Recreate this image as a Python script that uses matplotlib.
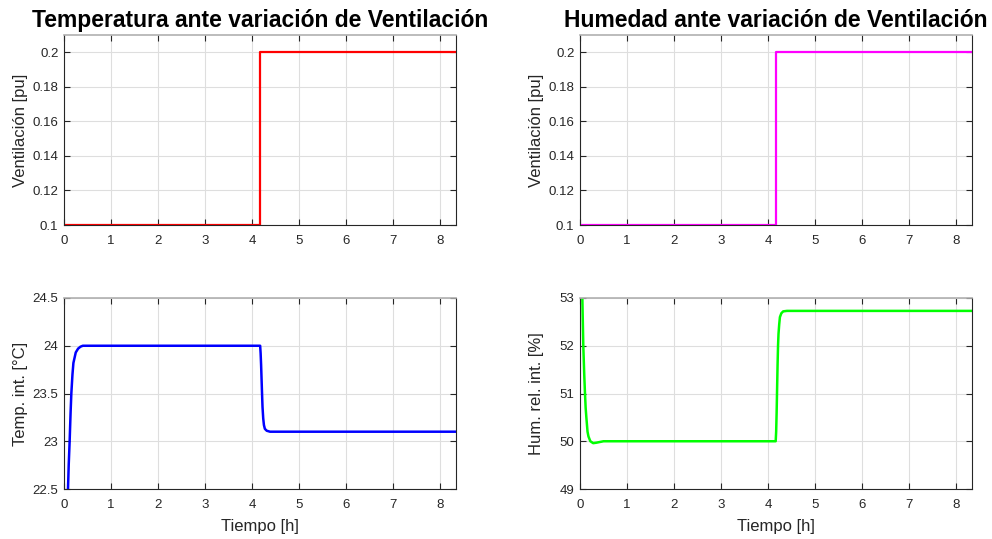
import matplotlib
matplotlib.use("Agg")
import matplotlib.pyplot as plt

plt.rcParams['font.family'] = ['Liberation Sans', 'DejaVu Sans']

# Simulation horizon [h] and ventilation step time [h]
t_end = 8.3333
t_step = 4.1667

# Ventilation input [pu]
vent_t = [0.0, t_step, t_end]
vent_v = [0.1, 0.2, 0.2]

# Indoor temperature [°C]
temp_t = [0.0, 0.06, 0.085, 0.10, 0.12, 0.14, 0.156, 0.18, 0.20, 0.25, 0.30, 0.35, 0.40, 0.50,
          4.17, 4.18, 4.19, 4.20, 4.21, 4.22, 4.235, 4.25, 4.27, 4.31, 4.38, t_end]
temp_v = [20.0, 22.0, 22.5, 22.75, 23.0, 23.3, 23.5, 23.7, 23.82, 23.93, 23.97, 23.99, 24.0, 24.0,
          24.0, 23.92, 23.8, 23.65, 23.5, 23.36, 23.24, 23.17, 23.13, 23.11, 23.1, 23.1]

# Indoor relative humidity [%]
hum_t = [0.0, 0.05, 0.07, 0.09, 0.106, 0.12, 0.135, 0.16, 0.18, 0.22, 0.28, 0.35, 0.50,
         4.16, 4.17, 4.18, 4.19, 4.20, 4.21, 4.22, 4.235, 4.25, 4.28, 4.32, 4.40, t_end]
hum_v = [56.0, 53.0, 52.0, 51.4, 51.0, 50.7, 50.5, 50.2, 50.1, 50.0, 49.96, 49.97, 50.0,
         50.0, 50.2, 50.6, 51.1, 51.6, 52.0, 52.25, 52.45, 52.6, 52.68, 52.72, 52.73, 52.73]

xticks = [0, 1, 2, 3, 4, 5, 6, 7, 8]

fig = plt.figure(figsize=(9.92, 5.39), dpi=100)
W, H = 992, 539

def make_ax(x0, y_top, x1, y_bot):
    return fig.add_axes([x0 / W, 1 - y_bot / H, (x1 - x0) / W, (y_bot - y_top) / H])

ax_tl = make_ax(64, 35, 456, 225)
ax_tr = make_ax(580, 35, 972, 225)
ax_bl = make_ax(64, 298, 456, 489)
ax_br = make_ax(580, 298, 972, 489)

axc = '#262626'

def style(ax, ylim, yticks, ylabel, yfmt=None):
    ax.set_xlim(0, t_end)
    ax.set_ylim(*ylim)
    ax.set_xticks(xticks)
    ax.set_yticks(yticks)
    if yfmt:
        ax.set_yticklabels([yfmt(v) for v in yticks])
    ax.grid(True, color='#dedede', linewidth=0.8)
    ax.set_axisbelow(True)
    ax.tick_params(direction='in', length=4, width=0.8, colors=axc, labelsize=9.5,
                   top=True, right=True)
    ax.tick_params(axis='x', pad=7)
    ax.tick_params(axis='y', pad=4)
    for s in ['left', 'bottom', 'right']:
        ax.spines[s].set_color(axc)
        ax.spines[s].set_linewidth(0.8)
    ax.spines['top'].set_color('#b0b0b0')
    ax.spines['top'].set_linewidth(1.2)
    ax.set_ylabel(ylabel, fontsize=12, color=axc, va='center')
    ax.yaxis.set_label_coords(-43 / 392, 0.5)

def fmt_vent(v):
    return f"{v:.2f}".rstrip('0')

vt = [0.1, 0.12, 0.14, 0.16, 0.18, 0.2]

ax_tl.plot(vent_t, vent_v, drawstyle='steps-post', color='#ff0000', lw=1.6)
style(ax_tl, (0.1, 0.21), vt, 'Ventilación [pu]', fmt_vent)
ax_tl.set_title('Temperatura ante variación de Ventilación', fontsize=16.5, fontweight='bold', pad=6)

ax_tr.plot(vent_t, vent_v, drawstyle='steps-post', color='#ff00ff', lw=1.6)
style(ax_tr, (0.1, 0.21), vt, 'Ventilación [pu]', fmt_vent)
ax_tr.set_title('Humedad ante variación de Ventilación', fontsize=16.5, fontweight='bold', pad=6)

ax_bl.plot(temp_t, temp_v, color='#0000ff', lw=1.8)
style(ax_bl, (22.5, 24.5), [22.5, 23, 23.5, 24, 24.5], 'Temp. int. [°C]', lambda v: f"{v:g}")
ax_bl.set_xlabel('Tiempo [h]', fontsize=12, color=axc, labelpad=6)

ax_br.plot(hum_t, hum_v, color='#00ff00', lw=1.8)
style(ax_br, (49, 53), [49, 50, 51, 52, 53], 'Hum. rel. int. [%]', lambda v: f"{v:g}")
ax_br.set_xlabel('Tiempo [h]', fontsize=12, color=axc, labelpad=6)

fig.savefig('out.png', dpi=100)
